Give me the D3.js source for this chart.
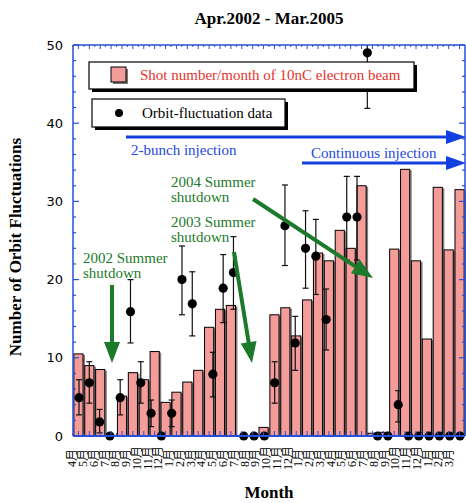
<!DOCTYPE html>
<html><head><meta charset="utf-8">
<script src="https://cdn.jsdelivr.net/npm/d3@7"></script>
<style>body{margin:0;background:#fff}</style>
</head><body><svg id="c" width="466" height="503"></svg>
<script>
// ---- data ----
const monthLabels = ["4","5","6","7","8","9","10","11","12","1","2","3",
                     "4","5","6","7","8","9","10","11","12","1","2","3",
                     "4","5","6","7","8","9","10","11","12","1","2","3"];
const shotsPerMonth = [10.5,9.0,8.5,0,5.1,8.1,7.2,10.8,4.3,5.6,6.9,8.4,
                       13.9,16.2,16.7,0,0,1.1,15.5,16.4,12.8,17.4,23.4,22.4,
                       26.3,24.0,32.0,0.35,0.47,23.9,34.1,22.4,12.4,31.8,23.8,31.5];
// orbit fluctuation data points (38 plotted slots, null = no point)
const orbitValues = [4.9,6.8,1.8,0,4.9,15.9,6.8,2.9,0,2.9,20.0,16.9,null,7.9,18.9,20.9,0,0,0,
                     6.8,26.9,11.9,24.0,23.0,14.9,null,28.0,28.0,49.0,0,0,4.0,0,0,0,0,0,0];
const orbitLow  = [2.7,4.2,0.4,null,2.7,11.9,4.2,1.2,null,1.2,15.5,12.8,null,5.0,14.5,16.2,null,null,null,
                   4.2,21.8,8.4,18.9,18.1,11.0,null,22.5,22.5,41.9,null,null,1.8,null,null,null,null,null,null];
const orbitHigh = [7.2,9.5,3.4,null,7.2,20.0,9.5,4.6,null,4.6,24.3,21.0,null,10.7,23.2,25.5,null,null,null,
                   9.5,32.1,15.3,28.8,27.7,18.8,null,33.2,33.2,56,null,null,5.8,null,null,null,null,null,null];
const yTicks = [0,10,20,30,40,50];
const shutdowns = [
  {label:["2002 Summer","shutdown"]},
  {label:["2003 Summer","shutdown"]},
  {label:["2004 Summer","shutdown"]}
];

const svg = d3.select("#c");
const L=73, R=465, T=45, B=436;
const blue="#2a4fd6", green="#1d7a2b", pink="#f39c9a";
const serif="'Liberation Serif','Times New Roman',serif";

const x = d3.scaleBand().domain(d3.range(36)).range([L,R]).paddingInner(0.16).paddingOuter(0.08);
const xl = d3.scalePoint().domain(d3.range(36)).range([72,449]);
const xd = d3.scaleLinear().domain([0,37]).range([79,460]);
const y = d3.scaleLinear().domain([0,50]).range([B,T]);

svg.append("defs").append("clipPath").attr("id","pc").append("rect")
  .attr("x",L).attr("y",T).attr("width",R-L+2).attr("height",B-T);

// title
svg.append("text").attr("x",269).attr("y",24).attr("text-anchor","middle")
  .attr("font-family",serif).attr("font-weight","bold").attr("font-size",17).text("Apr.2002 - Mar.2005");

// bars
const gb = svg.append("g").attr("clip-path","url(#pc)");
shotsPerMonth.forEach((v,i)=>{
  if(!v) return;
  gb.append("rect").attr("x",x(i)+2).attr("y",y(v)+1).attr("width",x.bandwidth()).attr("height",y(0)-y(v))
    .attr("fill","#808080");
  gb.append("rect").attr("x",x(i)).attr("y",y(v)).attr("width",x.bandwidth()).attr("height",y(0)-y(v))
    .attr("fill",pink).attr("stroke","#000").attr("stroke-width",1);
});

// error bars + dots
const gd = svg.append("g").attr("clip-path","url(#pc)");
orbitValues.forEach((v,i)=>{
  if(v===null) return;
  const cx = xd(i);
  if(orbitLow[i]!==null){
    gd.append("line").attr("x1",cx).attr("x2",cx).attr("y1",y(orbitLow[i])).attr("y2",y(orbitHigh[i]))
      .attr("stroke","#111").attr("stroke-width",1.2);
    [orbitLow[i],orbitHigh[i]].forEach(e=>gd.append("line").attr("x1",cx-3).attr("x2",cx+3)
      .attr("y1",y(e)).attr("y2",y(e)).attr("stroke","#111").attr("stroke-width",1.2));
  }
});
orbitValues.forEach((v,i)=>{
  if(v===null) return;
  svg.append("circle").attr("cx",xd(i)).attr("cy",y(v)).attr("r",4.6).attr("fill","#000");
});

// frame
const fr = svg.append("g").attr("stroke",blue).attr("fill","none");
fr.append("line").attr("x1",L).attr("x2",L).attr("y1",T).attr("y2",B).attr("stroke-width",1.5);
fr.append("line").attr("x1",R).attr("x2",R).attr("y1",T).attr("y2",B).attr("stroke-width",1.5);
fr.append("line").attr("x1",L).attr("x2",R).attr("y1",T).attr("y2",T).attr("stroke-width",1.5);
fr.append("line").attr("x1",L).attr("x2",R).attr("y1",B).attr("y2",B).attr("stroke-width",2);
// y ticks (major + minor), inward on both sides
d3.range(0,51,2).forEach(v=>{
  const len = v%10===0 ? 6 : 3;
  fr.append("line").attr("x1",L).attr("x2",L+len).attr("y1",y(v)).attr("y2",y(v)).attr("stroke-width",1.2);
  fr.append("line").attr("x1",R).attr("x2",R-len).attr("y1",y(v)).attr("y2",y(v)).attr("stroke-width",1.2);
});
// x ticks top and bottom
const step = x.step();
d3.range(36).forEach(i=>{
  const c = x(i)+x.bandwidth()/2;
  [[c,4],[c-step/2,2]].forEach(([px,len])=>{
    fr.append("line").attr("x1",px).attr("x2",px).attr("y1",T).attr("y2",T+len).attr("stroke-width",1);
    fr.append("line").attr("x1",px).attr("x2",px).attr("y1",B).attr("y2",B-len-1).attr("stroke-width",1);
  });
});

// y tick labels
yTicks.forEach(v=>svg.append("text").attr("x",63).attr("y",y(v)).attr("dy","0.35em").attr("text-anchor","end")
  .attr("font-family","'DejaVu Sans',sans-serif").attr("font-size",13).text(v));

// x tick labels
monthLabels.forEach((m,i)=>{
  svg.append("text").attr("transform",`translate(${xl(i)},458) rotate(-90)`)
    .attr("text-anchor","middle").attr("dy","0.35em")
    .attr("font-family",serif+",'Noto Sans CJK JP'").attr("font-size",12).text(m+"月");
});

// axis titles
svg.append("text").attr("x",269).attr("y",498).attr("text-anchor","middle")
  .attr("font-family",serif).attr("font-weight","bold").attr("font-size",17).text("Month");
svg.append("text").attr("transform","translate(21,247) rotate(-90)").attr("text-anchor","middle")
  .attr("font-family",serif).attr("font-weight","bold").attr("font-size",17).text("Number of Orbit Fluctuations");

// legend
function box(x0,y0,w,h){
  svg.append("rect").attr("x",x0+3).attr("y",y0+3).attr("width",w).attr("height",h).attr("fill","#000");
  svg.append("rect").attr("x",x0).attr("y",y0).attr("width",w).attr("height",h).attr("fill","#fff").attr("stroke","#000").attr("stroke-width",1.2);
}
box(89,62,325,27);
svg.append("rect").attr("x",113).attr("y",69).attr("width",15).attr("height",15).attr("fill","#777");
svg.append("rect").attr("x",111).attr("y",67).attr("width",15).attr("height",15).attr("fill",pink).attr("stroke","#000");
svg.append("text").attr("x",140).attr("y",80).attr("font-family",serif).attr("font-size",15).attr("fill","#e8322c")
  .text("Shot number/month of 10nC electron beam");
box(92,99,193,28);
svg.append("circle").attr("cx",119).attr("cy",113).attr("r",4).attr("fill","#000");
svg.append("text").attr("x",142).attr("y",118).attr("font-family",serif).attr("font-size",15).attr("fill","#000")
  .text("Orbit-fluctuation data");

// blue injection arrows
function arrow(x1,y1,x2,y2,col,w,hl,hw){
  const a=Math.atan2(y2-y1,x2-x1);
  const bx=x2-hl*Math.cos(a), by=y2-hl*Math.sin(a);
  svg.append("line").attr("x1",x1).attr("y1",y1).attr("x2",bx+Math.cos(a)*2).attr("y2",by+Math.sin(a)*2)
    .attr("stroke",col).attr("stroke-width",w);
  const px=-Math.sin(a)*hw/2, py=Math.cos(a)*hw/2;
  svg.append("path").attr("d",`M${x2},${y2}L${bx+px},${by+py}L${bx-px},${by-py}Z`).attr("fill",col);
}
arrow(126,137,466,137,"#1440e0",3,20,14);
svg.append("text").attr("x",131).attr("y",155).attr("font-family",serif).attr("font-size",15).attr("fill","#2448e0").text("2-bunch injection");
arrow(302,163,466,163,"#1440e0",3,20,14);
svg.append("text").attr("x",311).attr("y",158).attr("font-family",serif).attr("font-size",15).attr("fill","#2448e0").text("Continuous injection");

// green shutdown annotations
const gpos=[[83,263],[171,227],[171,187]];
shutdowns.forEach((s,i)=>{
  s.label.forEach((t,j)=>svg.append("text").attr("x",gpos[i][0]).attr("y",gpos[i][1]+j*15)
    .attr("font-family",serif).attr("font-size",15).attr("fill",green).text(t));
});
arrow(112,285,112,363,green,4,21,16);
arrow(234,252,252,363,green,4,21,16);
arrow(253,199,373,278,green,4,21,16);
</script></body></html>
